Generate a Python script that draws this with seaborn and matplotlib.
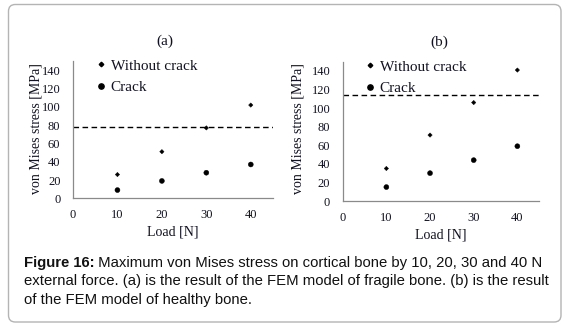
import numpy as np
import pandas as pd
import matplotlib
matplotlib.use("Agg")
import matplotlib.pyplot as plt
from matplotlib.patches import FancyBboxPatch
from matplotlib.lines import Line2D
from matplotlib.text import Annotation
import seaborn as sns

# ---- data ----
loads = [10, 20, 30, 40]
a_without = [26, 51, 77, 102]
a_crack = [9, 19, 28, 37]
b_without = [35, 71, 106, 141]
b_crack = [15, 30, 44, 59]
a_threshold = 78
b_threshold = 114
series_names = ["Without crack", "Crack"]
panel_titles = ["(a)", "(b)"]
x_ticks = [0, 10, 20, 30, 40]
y_ticks = [0, 20, 40, 60, 80, 100, 120, 140]

sns.set_theme(style="white")
plt.rcParams["font.family"] = ["Liberation Serif", "DejaVu Serif"]

W, H = 568, 327
fig = plt.figure(figsize=(W / 100, H / 100), dpi=100)

def frac(l, t, r, b):
    return [l / W, 1 - b / H, (r - l) / W, (b - t) / H]

panels = [
    dict(rect=frac(73, 61.2, 273, 198.3), wo=a_without, cr=a_crack, thr=a_threshold,
         title=panel_titles[0], tx=165, ty=41, ylx=36.5, lgx=97, lgy=59),
    dict(rect=frac(342.7, 61.7, 539.2, 201), wo=b_without, cr=b_crack, thr=b_threshold,
         title=panel_titles[1], tx=439, ty=42, ylx=298, lgx=366, lgy=60),
]

ink = "#111122"
for p in panels:
    ax = fig.add_axes(p["rect"])
    df = pd.DataFrame({
        "Load": loads * 2,
        "Stress": p["wo"] + p["cr"],
        "Series": [series_names[0]] * 4 + [series_names[1]] * 4,
    })
    sns.scatterplot(data=df, x="Load", y="Stress", hue="Series", style="Series",
                    palette=["black", "black"], markers=["D", "o"],
                    size="Series", sizes={series_names[0]: 5, series_names[1]: 13},
                    edgecolor="black", linewidth=0.3, ax=ax, legend=False)
    ax.axhline(p["thr"], color="black", lw=1.0, ls=(0, (4, 2.5)))
    ax.set_xlim(0, 45)
    ax.set_ylim(0, 150)
    ax.set_xticks(x_ticks)
    ax.set_yticks(y_ticks)
    ax.tick_params(axis="both", length=0, labelsize=9, colors=ink)
    ax.tick_params(axis="y", pad=9)
    ax.tick_params(axis="x", pad=8)
    for s in ["top", "right"]:
        ax.spines[s].set_visible(False)
    for s in ["left", "bottom"]:
        ax.spines[s].set_color("#8a8a8a")
        ax.spines[s].set_linewidth(0.9)
    ax.set_facecolor("none")
    ax.set_xlabel("Load [N]", fontsize=10, color=ink, labelpad=3)
    ax.set_ylabel("")
    fig.text(p["ylx"] / W, 1 - 129 / H, "von Mises stress [MPa]", rotation=90,
             ha="center", va="center", fontsize=10, color=ink)
    fig.text(p["tx"] / W, 1 - p["ty"] / H, p["title"], ha="center", va="center",
             fontsize=11, color=ink)
    handles = [Line2D([], [], ls="", marker="D", ms=2.3, color="black"),
               Line2D([], [], ls="", marker="o", ms=3.8, color="black")]
    ax.legend(handles, series_names, loc="upper left",
              bbox_to_anchor=(p["lgx"] / W, 1 - p["lgy"] / H),
              bbox_transform=fig.transFigure, frameon=False, fontsize=11,
              handlelength=0.5, handletextpad=0.4, labelspacing=0.5,
              borderaxespad=0, borderpad=0, labelcolor=ink)

# caption
cap_font = ["Liberation Sans", "DejaVu Sans"]
cap_size = 10.7
cap_x = 23.5
t1 = fig.text(cap_x / W, 1 - 267 / H, "Figure 16:", fontsize=cap_size, fontweight="bold",
              family=cap_font, va="baseline", ha="left", color="#111")
ann = fig.add_artist(Annotation(" Maximum von Mises stress on cortical bone by 10, 20, 30 and 40 N",
                                xy=(1, 0), xycoords=t1, va="bottom", ha="left",
                                fontsize=cap_size, family=cap_font, color="#111"))
ann.set_annotation_clip(False)
fig.text(cap_x / W, 1 - 285.5 / H,
         "external force. (a) is the result of the FEM model of fragile bone. (b) is the result",
         fontsize=cap_size, family=cap_font, va="baseline", ha="left", color="#111")
fig.text(cap_x / W, 1 - 304 / H, "of the FEM model of healthy bone.",
         fontsize=cap_size, family=cap_font, va="baseline", ha="left", color="#111")

# rounded border
box = FancyBboxPatch((8.5 / W, 1 - 322 / H), (561 - 8.5) / W, (322 - 4.5) / H,
                     boxstyle="round,pad=0,rounding_size=0.012",
                     transform=fig.transFigure, fill=False, ec="#b4b4b4", lw=1.0,
                     mutation_aspect=W / H)
fig.add_artist(box)

fig.savefig("out.png", dpi=100)
